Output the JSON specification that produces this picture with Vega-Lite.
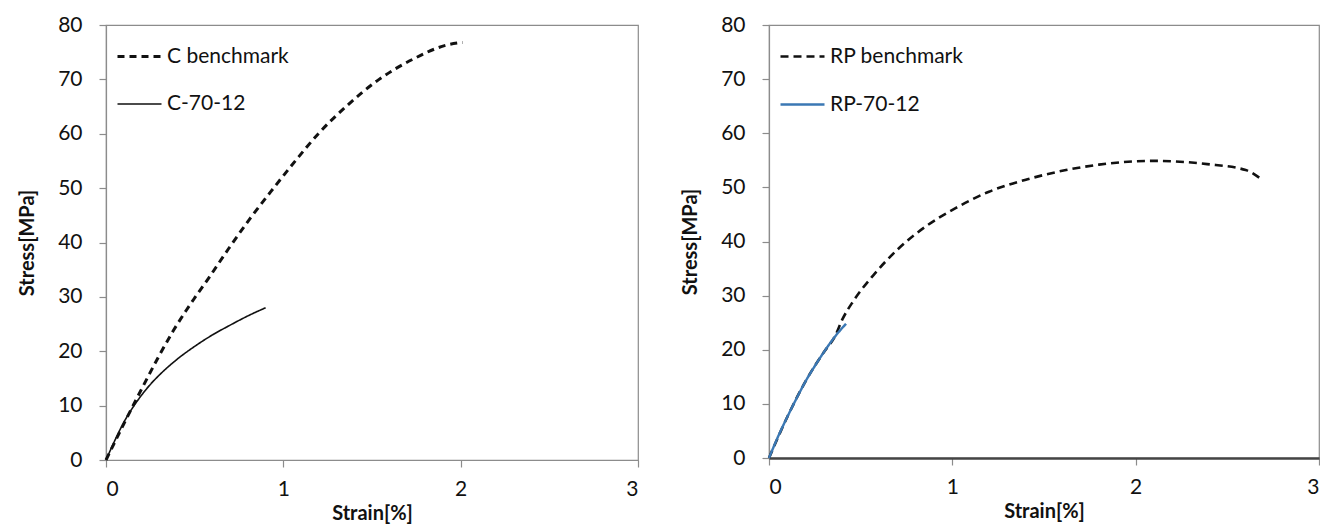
{
  "$schema": "https://vega.github.io/schema/vega-lite/v6.json",
  "padding": {"left": 17, "top": 13, "right": 0, "bottom": 0},
  "background": "white",
  "config": {
    "font": "Lato",
    "view": {"stroke": "#8c8c8c", "strokeWidth": 1.2},
    "axis": {
      "grid": false,
      "domainColor": "#8c8c8c",
      "domainWidth": 1.2,
      "tickColor": "#8c8c8c",
      "tickSize": 7,
      "tickWidth": 1.2,
      "labelFont": "Lato",
      "labelFontSize": 21,
      "labelColor": "#111",
      "titleFont": "Lato",
      "titleFontSize": 20,
      "titleFontWeight": "bold",
      "titleColor": "#111"
    },
    "legend": {
      "labelFont": "Lato",
      "labelFontSize": 21,
      "labelColor": "#111",
      "symbolType": "stroke",
      "symbolSize": 1936,
      "rowPadding": 14,
      "labelOffset": 4
    }
  },
  "spacing": 40,
  "resolve": {
    "scale": {"color": "independent", "strokeDash": "independent", "strokeWidth": "independent"},
    "legend": {"color": "independent", "strokeDash": "independent", "strokeWidth": "independent"}
  },
  "hconcat": [
    {
      "width": 532,
      "height": 435,
      "data": {"values": [
        {"series": "C benchmark", "strain": 0, "stress": 0},
        {"series": "C benchmark", "strain": 0.1, "stress": 6.6},
        {"series": "C benchmark", "strain": 0.2, "stress": 13},
        {"series": "C benchmark", "strain": 0.3, "stress": 19.2},
        {"series": "C benchmark", "strain": 0.38, "stress": 23.8},
        {"series": "C benchmark", "strain": 0.45, "stress": 27.4},
        {"series": "C benchmark", "strain": 0.5, "stress": 29.8},
        {"series": "C benchmark", "strain": 0.58, "stress": 33.5},
        {"series": "C benchmark", "strain": 0.69, "stress": 38.8},
        {"series": "C benchmark", "strain": 0.81, "stress": 44.3},
        {"series": "C benchmark", "strain": 0.94, "stress": 49.8},
        {"series": "C benchmark", "strain": 1.07, "stress": 55.1},
        {"series": "C benchmark", "strain": 1.2, "stress": 60.1},
        {"series": "C benchmark", "strain": 1.35, "stress": 64.9},
        {"series": "C benchmark", "strain": 1.54, "stress": 70},
        {"series": "C benchmark", "strain": 1.73, "stress": 73.7},
        {"series": "C benchmark", "strain": 1.92, "stress": 76.3},
        {"series": "C benchmark", "strain": 2.01, "stress": 76.8},
        {"series": "C-70-12", "strain": 0, "stress": 0},
        {"series": "C-70-12", "strain": 0.05, "stress": 3.6},
        {"series": "C-70-12", "strain": 0.1, "stress": 6.9},
        {"series": "C-70-12", "strain": 0.15, "stress": 9.6},
        {"series": "C-70-12", "strain": 0.2, "stress": 11.9},
        {"series": "C-70-12", "strain": 0.25, "stress": 13.9},
        {"series": "C-70-12", "strain": 0.3, "stress": 15.6},
        {"series": "C-70-12", "strain": 0.4, "stress": 18.5},
        {"series": "C-70-12", "strain": 0.5, "stress": 20.9},
        {"series": "C-70-12", "strain": 0.6, "stress": 23},
        {"series": "C-70-12", "strain": 0.7, "stress": 24.8},
        {"series": "C-70-12", "strain": 0.8, "stress": 26.5},
        {"series": "C-70-12", "strain": 0.9, "stress": 28}
      ]},
      "mark": {"type": "line", "interpolate": "monotone"},
      "encoding": {
        "x": {"field": "strain", "type": "quantitative", "title": "Strain[%]",
              "scale": {"domain": [0, 3], "nice": false},
              "axis": {"values": [0, 1, 2, 3], "format": "d", "labelPadding": 11, "titlePadding": 4}},
        "y": {"field": "stress", "type": "quantitative", "title": "Stress[MPa]",
              "scale": {"domain": [0, 80], "nice": false},
              "axis": {"values": [0, 10, 20, 30, 40, 50, 60, 70, 80], "labelPadding": 17, "titlePadding": 20}},
        "color": {"field": "series", "type": "nominal",
                  "scale": {"domain": ["C benchmark", "C-70-12"], "range": ["#111111", "#111111"]},
                  "legend": {"title": null, "orient": "none", "legendX": 10, "legendY": 8}},
        "strokeDash": {"field": "series", "type": "nominal",
                  "scale": {"domain": ["C benchmark", "C-70-12"], "range": [[7, 5], [1, 0]]},
                  "legend": {"title": null, "orient": "none", "legendX": 10, "legendY": 8}},
        "strokeWidth": {"field": "series", "type": "nominal",
                  "scale": {"domain": ["C benchmark", "C-70-12"], "range": [3, 1.6]},
                  "legend": {"title": null, "orient": "none", "legendX": 10, "legendY": 8}}
      }
    },
    {
      "width": 550,
      "height": 433,
      "data": {"values": [
        {"series": "RP benchmark", "strain": 0, "stress": 0},
        {"series": "RP benchmark", "strain": 0.1, "stress": 7.6},
        {"series": "RP benchmark", "strain": 0.2, "stress": 14.2},
        {"series": "RP benchmark", "strain": 0.3, "stress": 19.6},
        {"series": "RP benchmark", "strain": 0.36, "stress": 22.5},
        {"series": "RP benchmark", "strain": 0.4, "stress": 25.6},
        {"series": "RP benchmark", "strain": 0.46, "stress": 29},
        {"series": "RP benchmark", "strain": 0.57, "stress": 33.8},
        {"series": "RP benchmark", "strain": 0.71, "stress": 38.8},
        {"series": "RP benchmark", "strain": 0.86, "stress": 42.9},
        {"series": "RP benchmark", "strain": 1.02, "stress": 46.2},
        {"series": "RP benchmark", "strain": 1.2, "stress": 49.2},
        {"series": "RP benchmark", "strain": 1.41, "stress": 51.5},
        {"series": "RP benchmark", "strain": 1.62, "stress": 53.2},
        {"series": "RP benchmark", "strain": 1.8, "stress": 54.2},
        {"series": "RP benchmark", "strain": 2.09, "stress": 54.9},
        {"series": "RP benchmark", "strain": 2.39, "stress": 54.3},
        {"series": "RP benchmark", "strain": 2.6, "stress": 53.2},
        {"series": "RP benchmark", "strain": 2.69, "stress": 51.4},
        {"series": "RP-70-12", "strain": 0, "stress": 0},
        {"series": "RP-70-12", "strain": 0.05, "stress": 4},
        {"series": "RP-70-12", "strain": 0.1, "stress": 7.6},
        {"series": "RP-70-12", "strain": 0.15, "stress": 11},
        {"series": "RP-70-12", "strain": 0.2, "stress": 14.2},
        {"series": "RP-70-12", "strain": 0.25, "stress": 17},
        {"series": "RP-70-12", "strain": 0.3, "stress": 19.6},
        {"series": "RP-70-12", "strain": 0.35, "stress": 22},
        {"series": "RP-70-12", "strain": 0.42, "stress": 24.8}
      ]},
      "mark": {"type": "line", "interpolate": "monotone"},
      "encoding": {
        "x": {"field": "strain", "type": "quantitative", "title": "Strain[%]",
              "scale": {"domain": [0, 3], "nice": false},
              "axis": {"values": [0, 1, 2, 3], "format": "d", "labelPadding": 11, "titlePadding": 4,
                       "domainColor": "#444", "domainWidth": 2.5}},
        "y": {"field": "stress", "type": "quantitative", "title": "Stress[MPa]",
              "scale": {"domain": [0, 80], "nice": false},
              "axis": {"values": [0, 10, 20, 30, 40, 50, 60, 70, 80], "labelPadding": 17, "titlePadding": 20}},
        "color": {"field": "series", "type": "nominal",
                  "scale": {"domain": ["RP benchmark", "RP-70-12"], "range": ["#111111", "#3b78b4"]},
                  "legend": {"title": null, "orient": "none", "legendX": 10, "legendY": 8}},
        "strokeDash": {"field": "series", "type": "nominal",
                  "scale": {"domain": ["RP benchmark", "RP-70-12"], "range": [[8, 5], [1, 0]]},
                  "legend": {"title": null, "orient": "none", "legendX": 10, "legendY": 8}},
        "strokeWidth": {"field": "series", "type": "nominal",
                  "scale": {"domain": ["RP benchmark", "RP-70-12"], "range": [2.6, 2.4]},
                  "legend": {"title": null, "orient": "none", "legendX": 10, "legendY": 8}}
      }
    }
  ]
}
